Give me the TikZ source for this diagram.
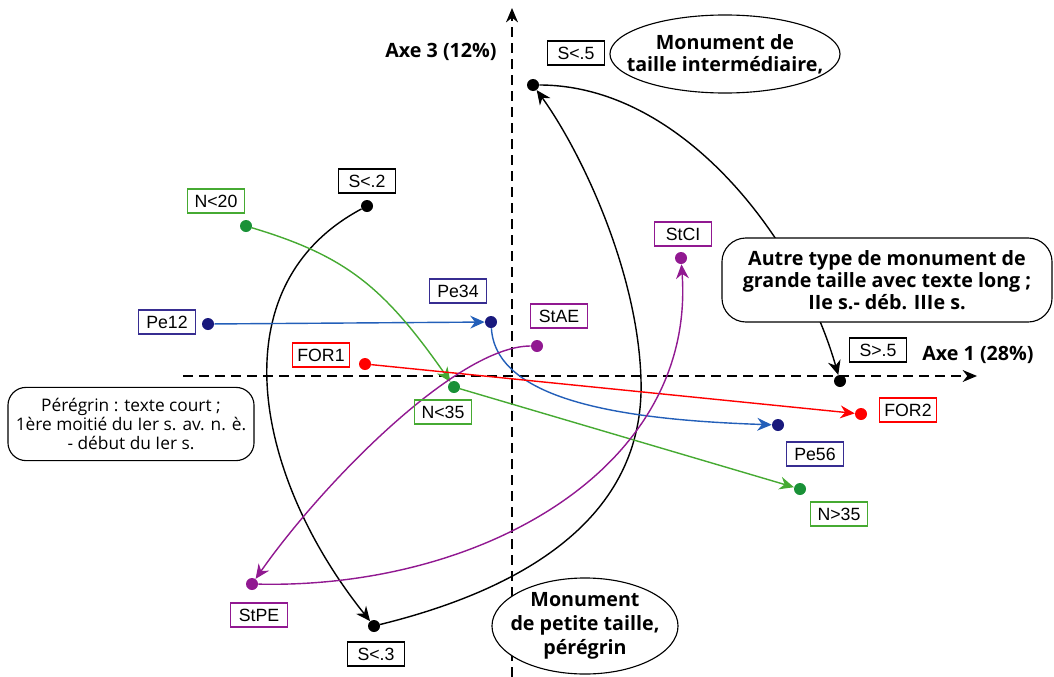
\documentclass[tikz,border=0pt]{standalone}
\usepackage{fontspec}
\setmainfont{Liberation Sans}
\newfontfamily\callfont{Open Sans}
\usetikzlibrary{arrows.meta,positioning,shapes.geometric}

\definecolor{dotgreen}{RGB}{25,145,55}
\definecolor{linegreen}{RGB}{70,170,50}
\definecolor{dotblue}{RGB}{25,25,125}
\definecolor{lineblue}{RGB}{35,95,185}
\definecolor{boxblue}{RGB}{55,45,145}
\definecolor{stpurple}{RGB}{145,25,145}

\tikzset{
  dot/.style={circle,fill=#1,inner sep=0pt,minimum size=0.3cm},
  tag/.style={draw=#1,line width=0.8pt,inner sep=1pt,minimum width=1.42cm,
    minimum height=0.6cm,font=\fontsize{12.6}{14}\selectfont},
  link/.style={line width=1pt,draw=#1,-{Stealth[length=0.36cm,width=0.32cm]}},
  axis/.style={dash pattern=on 0.25cm off 0.15cm,line width=0.9pt,
    -{Stealth[length=0.36cm,width=0.3cm]}},
  bubble/.style={draw,fill=white,line width=0.8pt,align=center,inner sep=0pt,
    font=\callfont\bfseries\fontsize{14}{15.8}\selectfont},
  axelabel/.style={font=\callfont\bfseries\fontsize{14}{15.8}\selectfont},
}

\begin{document}
\begin{tikzpicture}[x=0.025cm,y=-0.025cm]
  \useasboundingbox (0,0) rectangle (1054,677);

  % axes
  \coordinate (h0) at (183,376);
  \coordinate (h1) at (977,376);
  \coordinate (v0) at (512,677);
  \coordinate (v1) at (512,8);
  \draw[axis] (h0) -- (h1);
  \draw[axis] (v0) -- (v1);
  \node[axelabel] (ax3) at (441,52) {Axe 3 (12\%)};
  \node[axelabel] (ax1) at (978,355) {Axe 1 (28\%)};

  % modalities
  \node[dot=black] (s2) at (367,206) {};
  \node[dot=black] (s3) at (374,626) {};
  \node[dot=black] (s5) at (533,85) {};
  \node[dot=black] (sg) at (840,381) {};
  \node[dot=dotgreen] (n20) at (246,226) {};
  \node[dot=dotgreen] (n35) at (454,387) {};
  \node[dot=dotgreen] (ng) at (800,489) {};
  \node[dot=dotblue] (pe12) at (208,324) {};
  \node[dot=dotblue] (pe34) at (491,322) {};
  \node[dot=dotblue] (pe56) at (778,425) {};
  \node[dot=red] (for1) at (365,364) {};
  \node[dot=red] (for2) at (861,414) {};
  \node[dot=stpurple] (stae) at (537,346) {};
  \node[dot=stpurple] (stpe) at (252,584) {};
  \node[dot=stpurple] (stci) at (681,258) {};

  % trajectories
  \draw[link=black] (s2) .. controls +(-150,80) and +(-120,-150) .. (s3);
  \draw[link=black] (s3) .. controls (520,590) and (645,520) .. (641,380)
    .. controls (638,270) and (580,150) .. (s5);
  \draw[link=black] (s5) .. controls +(150,0) and +(-40,-140) .. (sg);
  \draw[link=lineblue] (pe12) -- (pe34);
  \draw[link=lineblue] (pe34) .. controls +(5,80) and +(-150,-5) .. (pe56);
  \draw[link=linegreen] (n20) .. controls +(100,30) and +(-70,-100) .. (n35);
  \draw[link=linegreen] (n35) -- (ng);
  \draw[link=red] (for1) -- (for2);
  \draw[link=stpurple] (stae) .. controls +(-80,0) and +(70,-100) .. (stpe);
  \draw[link=stpurple] (stpe) .. controls +(230,5) and +(15,210) .. (stci);

  % labels
  \node[tag=black] (ls5) at (576,53) {S<.5};
  \node[tag=black] (ls2) at (367,181) {S<.2};
  \node[tag=linegreen] (ln20) at (216,201) {N<20};
  \node[tag=boxblue] (lpe12) at (167,322) {Pe12};
  \node[tag=boxblue] (lpe34) at (458,291) {Pe34};
  \node[tag=stpurple] (lstae) at (559,316) {StAE};
  \node[tag=red] (lfor1) at (321,355) {FOR1};
  \node[tag=stpurple] (lstci) at (683,234) {StCI};
  \node[tag=black] (lsg) at (878,350) {S>.5};
  \node[tag=red] (lfor2) at (908,410) {FOR2};
  \node[tag=linegreen] (ln35) at (443,412) {N<35};
  \node[tag=boxblue] (lpe56) at (815,454) {Pe56};
  \node[tag=linegreen] (lng) at (839,514) {N>35};
  \node[tag=stpurple] (lstpe) at (259,615) {StPE};
  \node[tag=black] (ls3) at (376,654) {S<.3};

  % comments
  \node[bubble,ellipse,inner xsep=-0.55cm,minimum width=5.75cm,minimum height=1.95cm] (mid)
    at (725,54) {Monument de\\taille interm\'ediaire,};
  \node[bubble,ellipse,inner xsep=-0.25cm,inner ysep=-0.12cm,minimum width=4.65cm,
    minimum height=2.4cm,font=\callfont\bfseries\fontsize{14}{17}\selectfont] (small)
    at (585,626) {Monument\\de petite taille,\\p\'er\'egrin};
  \node[bubble,rounded corners=0.6cm,minimum width=8.25cm,minimum height=2.1cm] (big)
    at (887,280) {Autre type de monument de\\grande taille avec texte long ;\\IIe s.- d\'eb. IIIe s.};
  \node[bubble,rounded corners=0.45cm,minimum width=6.15cm,minimum height=1.83cm,
    font=\callfont\fontsize{12.3}{13.5}\selectfont] (per)
    at (131,424) {P\'er\'egrin : texte court ;\\1\`ere moiti\'e du Ier s. av. n. \`e.\\- d\'ebut du Ier s.};
\end{tikzpicture}
\end{document}
